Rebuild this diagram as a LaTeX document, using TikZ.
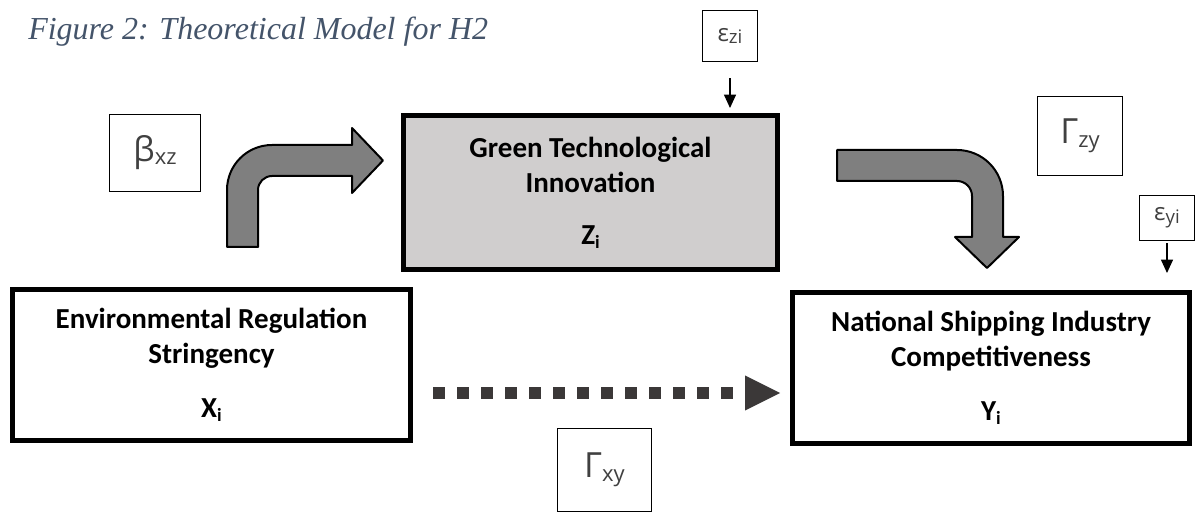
\documentclass[tikz,border=0pt]{standalone}
\usepackage{fontspec}
\usetikzlibrary{arrows.meta,calc}
\newfontfamily\boxfont{Carlito}
\newfontfamily\labfont{Open Sans}
\newfontfamily\titlefont{Liberation Serif}
\definecolor{titleblue}{HTML}{44546A}
\definecolor{labgray}{HTML}{404040}
\definecolor{arrowgray}{HTML}{7F7F7F}
\definecolor{dotgray}{HTML}{3B3838}
\definecolor{greenfill}{HTML}{D0CECE}
\begin{document}
\begin{tikzpicture}[x=0.75pt,y=-0.75pt,
  bigbox/.style={draw=black, line width=3.75pt, inner sep=0pt, align=center,
    font=\boxfont\bfseries\fontsize{21.75pt}{26.25pt}\selectfont},
  labbox/.style={draw=black, line width=0.9pt, inner sep=0pt, text=labgray, font=\labfont},
  blockarrow/.style={draw=black, line width=1.5pt, fill=arrowgray, line join=round},
  thinarrow/.style={draw=black, line width=0.8pt, -{Triangle[length=10pt,width=9pt]}},
  dotarrow/.style={draw=dotgray, line width=9pt, dash pattern=on 9pt off 9pt,
    -{Triangle[length=26.25pt,width=26.25pt,line width=0pt]}}]
\useasboundingbox (0,0) rectangle (1200,513);

% title
\node[anchor=base west, inner sep=0pt, text=titleblue,
  font=\titlefont\itshape\fontsize{24pt}{28pt}\selectfont] (title) at (28,40)
  {Figure 2: Theoretical Model for H2};

% main boxes
\node[bigbox, fill=greenfill, minimum width=280.5pt, minimum height=115.5pt] (Z) at (590.5,192.5)
  {Green Technological\\Innovation\\[12.75pt]Z\raisebox{-3pt}{\fontsize{14pt}{14pt}\selectfont i}};
\node[bigbox, fill=white, minimum width=298.5pt, minimum height=113.25pt] (X) at (211.5,365)
  {Environmental Regulation\\Stringency\\[14pt]X\raisebox{-3pt}{\fontsize{14pt}{14pt}\selectfont i}};
\node[bigbox, fill=white, minimum width=297.75pt, minimum height=113.25pt] (Y) at (991,368)
  {National Shipping Industry\\Competitiveness\\[14pt]Y\raisebox{-3pt}{\fontsize{14pt}{14pt}\selectfont i}};

% label boxes
\node[labbox, minimum width=41.25pt, minimum height=38.25pt] (ezi) at (730,36)
  {\fontsize{18pt}{20pt}\selectfont ε\raisebox{-2pt}{\fontsize{14pt}{14pt}\selectfont zi}};
\node[labbox, minimum width=68.25pt, minimum height=57.75pt] (bxz) at (155,153)
  {\fontsize{25.5pt}{30pt}\selectfont β\raisebox{-2pt}{\fontsize{16.5pt}{18pt}\selectfont xz}};
\node[labbox, minimum width=63.75pt, minimum height=59.25pt] (gzy) at (1080,136)
  {\fontsize{26pt}{30pt}\selectfont Γ\raisebox{-3pt}{\fontsize{16.5pt}{18pt}\selectfont zy}};
\node[labbox, minimum width=41.25pt, minimum height=33.75pt] (eyi) at (1167,218)
  {\fontsize{18pt}{20pt}\selectfont ε\raisebox{-2pt}{\fontsize{14pt}{14pt}\selectfont yi}};
\node[labbox, minimum width=70.5pt, minimum height=62.25pt] (gxy) at (604.5,470)
  {\fontsize{26pt}{30pt}\selectfont Γ\raisebox{-3pt}{\fontsize{16.5pt}{18pt}\selectfont xy}};

% error arrows
\draw[thinarrow, shorten <=12pt, shorten >=3.75pt] (ezi.south) -- (ezi.south |- Z.north);
\draw[thinarrow, shorten <=1.5pt, shorten >=12.75pt] (eyi.south) -- (eyi.south |- Y.north);

% block arrows
\draw[blockarrow] (227,247) -- (227,190) .. controls (227,165.1) and (247.1,145) .. (272,145)
  -- (352,145) -- (352,128) -- (383,160.5) -- (352,193) -- (352,176) -- (272,176)
  .. controls (264.3,176) and (258,182.3) .. (258,190) -- (258,247) -- cycle;
\draw[blockarrow] (837,150) -- (957,150) .. controls (982.4,150) and (1003,170.6) .. (1003,196)
  -- (1003,237) -- (1019,237) -- (987,268) -- (955,237) -- (972,237) -- (972,196)
  .. controls (972,187.7) and (965.3,181) .. (957,181) -- (837,181) -- cycle;

% dotted direct effect
\coordinate (d1) at (433,393);
\coordinate (d2) at (780,393);
\draw[dotarrow] (d1) -- (d2);
\end{tikzpicture}
\end{document}
